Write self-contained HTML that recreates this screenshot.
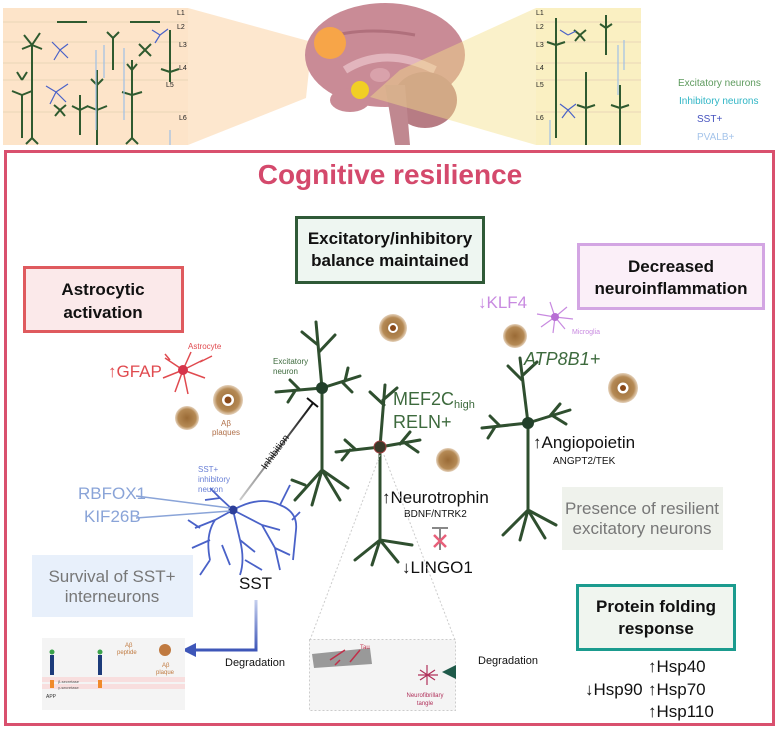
<!DOCTYPE html>
<html><head><meta charset="utf-8"><style>
html,body{margin:0;padding:0;background:#fff;}
svg{display:block;font-family:"Liberation Sans",sans-serif;}
</style></head><body>
<svg width="780" height="731" viewBox="0 0 780 731" xmlns="http://www.w3.org/2000/svg">
<defs>
<radialGradient id="pl" cx="50%" cy="50%" r="50%"><stop offset="0" stop-color="#9a6a35"/><stop offset="0.75" stop-color="#b58a55"/><stop offset="1" stop-color="#c9a274" stop-opacity="0.5"/></radialGradient>
<linearGradient id="gb" x1="0" y1="0" x2="0" y2="1"><stop offset="0" stop-color="#c5cfee"/><stop offset="1" stop-color="#3e56b8"/></linearGradient>
<linearGradient id="gg" x1="1" y1="0" x2="0" y2="0"><stop offset="0" stop-color="#ffffff"/><stop offset="0.6" stop-color="#2e6b5a"/><stop offset="1" stop-color="#1f5a4a"/></linearGradient>
<linearGradient id="gi" x1="0" y1="1" x2="1" y2="0"><stop offset="0" stop-color="#cccccc"/><stop offset="1" stop-color="#111"/></linearGradient>
</defs>

<!-- TOP PANELS -->
<rect x="3" y="8" width="185" height="137" fill="#fde4c9"/>
<polygon points="188,8 312,42 306,98 188,145" fill="#fde4c9" opacity="0.9"/>
<rect x="536" y="8" width="105" height="137" fill="#faf0c2"/>
<g stroke="#e9d6b8" stroke-width="1">
<line x1="3" y1="22" x2="188" y2="22"/><line x1="3" y1="42" x2="188" y2="42"/><line x1="3" y1="63" x2="188" y2="63"/><line x1="3" y1="80" x2="188" y2="80"/><line x1="3" y1="112" x2="188" y2="112"/>
<line x1="536" y1="22" x2="641" y2="22"/><line x1="536" y1="42" x2="641" y2="42"/><line x1="536" y1="63" x2="641" y2="63"/><line x1="536" y1="80" x2="641" y2="80"/><line x1="536" y1="112" x2="641" y2="112"/>
</g>
<g font-size="7" fill="#222">
<text x="177" y="15">L1</text><text x="177" y="29">L2</text><text x="179" y="47">L3</text><text x="179" y="70">L4</text><text x="166" y="87">L5</text><text x="179" y="120">L6</text>
<text x="536" y="15">L1</text><text x="536" y="29">L2</text><text x="536" y="47">L3</text><text x="536" y="70">L4</text><text x="536" y="87">L5</text><text x="536" y="120">L6</text>
</g>
<g stroke="#2f5a2f" stroke-width="2" fill="none">
<path d="M32,45 V138 M32,45 l-8,-10 M32,45 l8,-12 M32,45 l-10,4 M32,45 l10,4 M32,138 l-6,6 M32,138 l6,6"/>
<path d="M22,95 V138 M22,95 l-10,-4 M22,95 l10,-4 M22,80 l-5,-8 M22,80 l5,-8"/>
<path d="M97,110 V145 M97,110 l-10,-4 M97,110 l10,-4 M97,110 V70 M97,85 l-6,-6 M97,85 l6,-6"/>
<path d="M132,95 V138 M132,95 l-10,-3 M132,95 l10,-3 M132,95 V60 M132,70 l-5,-6 M132,70 l5,-6 M132,138 l-6,6 M132,138 l6,6"/>
<path d="M170,72 V30 M170,72 l-9,-3 M170,72 l9,-3 M170,72 v10"/>
<path d="M113,38 V70 M113,38 l-6,-6 M113,38 l6,-6"/>
<path d="M80,110 V135 M80,110 l-8,-4 M80,110 l8,-4 M80,110 V95"/>
<path d="M145,50 l-6,-6 M145,50 l6,-6 M145,50 l-6,6 M145,50 l6,6 M60,110 l-6,-5 M60,110 l6,-5 M60,110 l-5,6 M60,110 l5,6"/>
<path d="M57,22 h30 M130,22 h30"/>
<path d="M556,45 V138 M556,45 l-9,-3 M556,45 l9,-3 M556,45 V18"/>
<path d="M586,108 V145 M586,108 l-9,-3 M586,108 l9,-3 M586,108 V72"/>
<path d="M620,108 V145 M620,108 l-9,-3 M620,108 l9,-3 M620,108 V85"/>
<path d="M606,28 V55 M606,28 l-6,-4 M606,28 l6,-4 M606,28 V15"/>
<path d="M580,35 l-6,-5 M580,35 l6,-5 M580,35 l-5,6 M580,35 l5,6"/>
</g>
<g stroke="#4a62c8" stroke-width="1.2" fill="none">
<path d="M60,50 l-8,-8 M60,50 l8,-6 M60,50 l-6,10 M60,50 l8,8 M56,92 l-10,-6 M56,92 l12,-8 M56,92 l-6,12 M56,92 l10,10 M160,35 l-8,-5 M160,35 l8,-6 M160,35 l-5,8 M568,35 l-8,-5 M568,35 l8,-4 M568,110 l-8,-6 M568,110 l8,-6 M568,110 l-6,8 M568,110 l7,8"/>
</g>
<g stroke="#9fc0e6" stroke-width="1.2" fill="none">
<path d="M96,50 V130 M104,45 V78 M124,48 V120 M170,130 V145 M618,45 V95 M550,120 V145 M624,40 V70"/>
</g>

<!-- brain -->
<ellipse cx="385" cy="55" rx="80" ry="52" fill="#c98b96"/>
<path d="M320,40 Q360,25 415,35" stroke="#b0707c" stroke-width="3" fill="none"/>
<path d="M345,70 Q385,45 435,70" stroke="#e2b5bd" stroke-width="8" fill="none"/>
<ellipse cx="380" cy="75" rx="10" ry="7" fill="#d9a2ab"/>
<ellipse cx="350" cy="100" rx="20" ry="12" fill="#c98b96"/>
<ellipse cx="425" cy="100" rx="32" ry="28" fill="#b77c84"/>
<path d="M385,85 L405,85 L410,145 L395,145 Z" fill="#c08890"/>
<polygon points="536,8 400,70 370,97 536,145" fill="#f5df8a" opacity="0.45"/>
<circle cx="330" cy="43" r="16" fill="#f7a548"/>
<circle cx="360" cy="90" r="9" fill="#f1cf25"/>

<g font-size="10">
<text x="678" y="86" fill="#5d9a5d">Excitatory neurons</text>
<text x="679" y="104" fill="#2fb5c5">Inhibitory neurons</text>
<text x="697" y="122" fill="#4552bf">SST+</text>
<text x="697" y="140" fill="#a5c4ea">PVALB+</text>
</g>

<!-- MAIN FRAME -->
<rect x="5.5" y="151.5" width="768" height="573" fill="#fff" stroke="#d9506e" stroke-width="3"/>
<text x="390" y="184" text-anchor="middle" font-size="28" font-weight="bold" fill="#d4496c">Cognitive resilience</text>

<rect x="296.5" y="217.5" width="187" height="65" fill="#eef6f1" stroke="#2f5a37" stroke-width="3"/>
<text x="390" y="244" text-anchor="middle" font-size="17" font-weight="bold" fill="#111">Excitatory/inhibitory</text>
<text x="390" y="266" text-anchor="middle" font-size="17" font-weight="bold" fill="#111">balance maintained</text>

<rect x="24.5" y="267.5" width="158" height="64" fill="#fbe9ea" stroke="#df5a5e" stroke-width="3"/>
<text x="103" y="295" text-anchor="middle" font-size="17" font-weight="bold" fill="#111">Astrocytic</text>
<text x="103" y="318" text-anchor="middle" font-size="17" font-weight="bold" fill="#111">activation</text>

<rect x="578.5" y="244.5" width="185" height="64" fill="#fbeff8" stroke="#d3a5e3" stroke-width="3"/>
<text x="671" y="272" text-anchor="middle" font-size="17" font-weight="bold" fill="#111">Decreased</text>
<text x="671" y="294" text-anchor="middle" font-size="17" font-weight="bold" fill="#111">neuroinflammation</text>

<rect x="32" y="555" width="161" height="62" fill="#e8f0fb"/>
<text x="112" y="582" text-anchor="middle" font-size="17" fill="#777">Survival of SST+</text>
<text x="112" y="602" text-anchor="middle" font-size="17" fill="#777">interneurons</text>

<rect x="562" y="487" width="161" height="63" fill="#eff2ec"/>
<text x="642" y="514" text-anchor="middle" font-size="17" fill="#777">Presence of resilient</text>
<text x="642" y="534" text-anchor="middle" font-size="17" fill="#777">excitatory neurons</text>

<rect x="577.5" y="585.5" width="157" height="64" fill="#f0f5ef" stroke="#1b9b8e" stroke-width="3"/>
<text x="656" y="612" text-anchor="middle" font-size="17" font-weight="bold" fill="#111">Protein folding</text>
<text x="656" y="634" text-anchor="middle" font-size="17" font-weight="bold" fill="#111">response</text>

<!-- plaques -->
<circle cx="228" cy="400" r="15" fill="url(#pl)"/><circle cx="228" cy="400" r="6" fill="#fff"/><circle cx="228" cy="400" r="3.5" fill="#8a4a1a"/>
<circle cx="187" cy="418" r="12" fill="url(#pl)"/>
<circle cx="393" cy="328" r="14" fill="url(#pl)"/><circle cx="393" cy="328" r="5" fill="#fff"/><circle cx="393" cy="328" r="3" fill="#8a4a1a"/>
<circle cx="448" cy="460" r="12" fill="url(#pl)"/>
<circle cx="515" cy="336" r="12" fill="url(#pl)"/>
<circle cx="623" cy="388" r="15" fill="url(#pl)"/><circle cx="623" cy="388" r="5.5" fill="#fff"/><circle cx="623" cy="388" r="3" fill="#8a4a1a"/>
<text x="226" y="426" text-anchor="middle" font-size="8" fill="#b0704a">Aβ</text>
<text x="226" y="435" text-anchor="middle" font-size="8" fill="#b0704a">plaques</text>

<!-- astrocyte -->
<g stroke="#e04a4f" stroke-width="1.5" fill="none">
<path d="M183,370 l-18,-12 M183,370 l-20,8 M183,370 l-8,22 M183,370 l5,24 M183,370 l20,-10 M183,370 l8,-18 M183,370 l22,8 M200,362 l12,-6 M170,360 l-5,-6"/>
</g>
<circle cx="183" cy="370" r="5" fill="#d6344a"/>
<text x="188" y="349" font-size="8" fill="#e04a4f">Astrocyte</text>
<text x="108" y="377" font-size="17" fill="#e04a4f">↑GFAP</text>

<!-- microglia -->
<g stroke="#c88ae0" stroke-width="1.2" fill="none">
<path d="M555,317 l-18,-3 M555,317 l-14,10 M555,317 l-5,-15 M555,317 l12,-10 M555,317 l18,2 M555,317 l10,12 M555,317 l-2,16"/>
</g>
<circle cx="555" cy="317" r="4" fill="#b76ed4"/>
<text x="572" y="334" font-size="7" fill="#c88ae0">Microglia</text>
<text x="478" y="308" font-size="17" fill="#c88ae0">↓KLF4</text>

<!-- excitatory neurons -->
<g stroke="#2f4f2f" stroke-width="3" fill="none" stroke-linecap="round">
<path d="M322,388 L316,322 M318,345 L302,332 M319,352 L335,335 M322,388 L276,392 M300,390 L290,380 M295,391 L288,402 M322,388 L360,376 M342,382 L352,392 M345,381 L348,368 M322,388 L322,470 M322,470 L295,500 M322,470 L312,505 M322,470 L340,500 M322,470 L348,488 M305,485 L292,480"/>
<path d="M380,447 L385,385 M384,405 L370,392 M383,400 L397,388 M380,447 L336,452 M355,449 L345,440 M350,450 L342,460 M380,447 L420,440 M400,444 L410,432 M405,443 L418,452 M380,447 L380,540 M380,540 L355,560 M380,540 L372,565 M380,540 L398,562 M380,540 L412,545"/>
<path d="M528,423 L520,358 M522,380 L508,366 M523,375 L537,362 M528,423 L482,428 M500,426 L490,416 M495,427 L488,438 M528,423 L570,410 M550,416 L560,404 M553,416 L566,424 M528,423 L528,510 M528,510 L503,535 M528,510 L520,540 M528,510 L545,538 M528,510 L556,525"/>
</g>
<circle cx="322" cy="388" r="6" fill="#22402a"/>
<circle cx="380" cy="447" r="6" fill="#3a3a2a" stroke="#a04040" stroke-width="1"/>
<circle cx="528" cy="423" r="6" fill="#22402a"/>
<text x="273" y="364" font-size="8" fill="#3d6a3d">Excitatory</text>
<text x="273" y="374" font-size="8" fill="#3d6a3d">neuron</text>

<text x="393" y="405" font-size="18" fill="#3d6a3d">MEF2C<tspan font-size="11" dy="3">high</tspan></text>
<text x="393" y="428" font-size="18" fill="#3d6a3d">RELN+</text>
<text x="524" y="365" font-size="18" font-style="italic" fill="#3d6a3d">ATP8B1+</text>
<text x="533" y="448" font-size="17" fill="#111">↑Angiopoietin</text>
<text x="553" y="464" font-size="10" fill="#111">ANGPT2/TEK</text>
<text x="382" y="503" font-size="17" fill="#111">↑Neurotrophin</text>
<text x="404" y="517" font-size="10" fill="#111">BDNF/NTRK2</text>
<path d="M432,528 h16 M440,528 v22" stroke="#888" stroke-width="2"/>
<path d="M434,535 l12,12 M446,535 l-12,12" stroke="#e8607a" stroke-width="2.5"/>
<text x="402" y="573" font-size="17" fill="#111">↓LINGO1</text>

<!-- inhibition -->
<line x1="240" y1="500" x2="313" y2="403" stroke="url(#gi)" stroke-width="2"/>
<line x1="307" y1="398" x2="318" y2="407" stroke="#111" stroke-width="2"/>
<text x="0" y="0" font-size="10" fill="#111" transform="translate(266,470) rotate(-54)">Inhibition</text>

<!-- SST neuron -->
<g stroke="#4a62c8" stroke-width="1.8" fill="none">
<path d="M233,510 Q260,495 280,505 Q298,512 296,530 M280,505 L290,485 M292,520 L300,512 M296,530 L293,560 M233,510 L215,520 Q205,535 210,560 M215,520 L195,528 M210,540 L192,548 M210,560 L200,575 M233,510 L240,540 Q245,560 240,575 M240,540 L255,552 M245,560 L262,570 M233,510 L220,498 L210,488 M220,498 L205,500 M233,510 L262,525 L275,548 L280,570 M262,525 L280,530 M275,548 L290,555 M222,545 L230,565 M200,528 L188,520"/>
</g>
<circle cx="233" cy="510" r="4.5" fill="#2d3f9a"/>
<path d="M136,496 L230,508 M136,518 L230,511" stroke="#8aa4d8" stroke-width="1.5"/>
<text x="78" y="499" font-size="17" fill="#8aa4d8">RBFOX1</text>
<text x="84" y="522" font-size="17" fill="#8aa4d8">KIF26B</text>
<g font-size="8" fill="#6a80d6"><text x="198" y="472">SST+</text><text x="198" y="482">inhibitory</text><text x="198" y="492">neuron</text></g>
<text x="239" y="589" font-size="17" fill="#111">SST</text>

<!-- blue arrow -->
<path d="M256,600 V650 H195" stroke="url(#gb)" stroke-width="3" fill="none"/>
<polygon points="182,650 196,643 196,657" fill="#3e56b8"/>
<text x="225" y="666" font-size="11" fill="#111">Degradation</text>

<!-- APP box -->
<rect x="42" y="638" width="143" height="72" fill="#f4f4f4"/>
<rect x="42" y="677" width="143" height="5" fill="#f8dede"/><rect x="42" y="684" width="143" height="5" fill="#f8dede"/>
<rect x="50" y="655" width="4" height="20" fill="#1c3b7a"/><circle cx="52" cy="652" r="2.5" fill="#3aa24a"/><rect x="50" y="680" width="4" height="8" fill="#f08a2a"/>
<rect x="98" y="655" width="4" height="20" fill="#1c3b7a"/><circle cx="100" cy="652" r="2.5" fill="#3aa24a"/><rect x="98" y="680" width="4" height="8" fill="#f08a2a"/>
<circle cx="165" cy="650" r="6" fill="#c07a40"/>
<g font-size="6" fill="#c07a40"><text x="125" y="647">Aβ</text><text x="117" y="654">peptide</text><text x="162" y="667">Aβ</text><text x="156" y="674">plaque</text></g>
<text x="58" y="683" font-size="4" fill="#555">β-secretase</text><text x="58" y="689" font-size="4" fill="#555">γ-secretase</text>
<text x="46" y="698" font-size="5" fill="#333">APP</text>

<!-- tangle zoom box -->
<line x1="380" y1="455" x2="310" y2="640" stroke="#ccc" stroke-dasharray="2,2"/>
<line x1="384" y1="455" x2="455" y2="640" stroke="#ccc" stroke-dasharray="2,2"/>
<rect x="309.5" y="639.5" width="146" height="71" fill="#f4f4f4" stroke="#ccc" stroke-dasharray="2,2"/>
<path d="M312,654 L370,648 L372,664 L314,668 Z" fill="#999"/>
<path d="M330,660 L345,650 M350,662 L360,650 M335,665 l5,-5" stroke="#c0304a" stroke-width="1.5"/>
<text x="360" y="649" font-size="6" fill="#c0304a">Tau</text>
<g stroke="#b0305a" stroke-width="1.2"><path d="M420,670 l15,10 M420,680 l15,-10 M427,665 v20 M418,675 h20"/></g>
<g font-size="6" fill="#b0305a"><text x="425" y="697" text-anchor="middle">Neurofibrillary</text><text x="425" y="705" text-anchor="middle">tangle</text></g>

<!-- green arrow -->
<line x1="575" y1="672" x2="455" y2="672" stroke="url(#gg)" stroke-width="3"/>
<polygon points="442,672 456,665 456,679" fill="#1f5a4a"/>
<text x="478" y="664" font-size="11" fill="#111">Degradation</text>

<g font-size="17" fill="#111">
<text x="648" y="672">↑Hsp40</text>
<text x="585" y="695">↓Hsp90</text><text x="648" y="695">↑Hsp70</text>
<text x="648" y="717">↑Hsp110</text>
</g>
</svg>
</body></html>
